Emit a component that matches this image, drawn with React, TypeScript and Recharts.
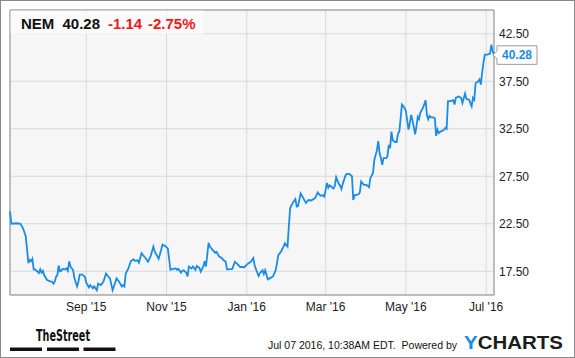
import React from "react";
import {
  LineChart,
  Line,
  XAxis,
  YAxis,
  CartesianGrid,
  ReferenceArea,
  ReferenceLine,
} from "recharts";

// Days since 2015-07-05
const days: number[] = [
  0, 1, 5, 8, 10, 12, 13, 14, 15, 16, 17, 18, 19, 21, 22, 23, 24, 25, 26, 28,
  30, 32, 33, 34, 35, 36, 37, 38, 39, 40, 42, 43, 44, 45, 46, 48, 49, 51, 52, 53,
  55, 57, 58, 60, 61, 63, 64, 66, 67, 69, 71, 73, 75, 76, 78, 79, 81, 83, 85, 86,
  87, 88, 90, 92, 94, 95, 97, 98, 100, 102, 103, 105, 107, 109, 110, 113, 114, 116, 118, 120,
  122, 124, 126, 127, 128, 130, 131, 132, 134, 135, 136, 138, 139, 141, 142, 144, 145, 147, 148, 149,
  151, 152, 154, 156, 157, 159, 161, 162, 164, 165, 166, 169, 171, 173, 175, 177, 178, 180, 183, 185,
  186, 189, 190, 192, 193, 194, 196, 198, 200, 202, 203, 204, 206, 208, 209, 211, 212, 213, 215, 217,
  218, 219, 221, 223, 225, 227, 229, 232, 234, 236, 238, 239, 241, 242, 243, 244, 246, 247, 248, 250,
  251, 252, 253, 255, 256, 258, 260, 261, 262, 265, 266, 267, 269, 271, 273, 274, 276, 277, 279, 280,
  281, 282, 283, 284, 286, 287, 288, 289, 290, 291, 293, 294, 295, 296, 297, 298, 300, 301, 303, 304,
  305, 306, 307, 308, 309, 310, 311, 312, 314, 316, 317, 318, 319, 320, 322, 323, 324, 325, 326, 328,
  330, 331, 332, 333, 335, 337, 338, 339, 341, 343, 344, 346, 347, 349, 351, 352, 353, 354, 356, 357,
  358, 359, 360, 361, 363, 365, 366, 367, 368,
];

const prices: number[] = [
  23.8, 22.5, 22.55, 22.5, 22.0, 21.15, 19.75, 18.35, 18.7, 18.55, 18.8, 17.7, 17.7, 17.45, 17.3, 17.7, 17.35, 17.55, 17.1, 16.6,
  16.45, 16.4, 16.2, 16.4, 16.9, 17.1, 18.1, 17.5, 17.55, 17.75, 17.7, 17.8, 17.55, 18.55, 18.0, 17.6, 16.75, 15.9, 16.4, 17.15,
  17.15, 16.9, 16.3, 15.8, 16.05, 15.7, 15.9, 15.5, 16.2, 16.05, 16.4, 17.25, 16.9, 16.75, 15.5, 15.9, 16.75, 16.4, 15.9, 16.05,
  15.9, 17.25, 17.8, 18.6, 18.75, 18.6, 18.65, 18.4, 19.4, 19.05, 18.9, 18.5, 19.1, 20.1, 19.6, 18.8, 19.3, 20.3, 20.15, 19.9,
  17.65, 17.75, 17.8, 17.65, 17.75, 17.35, 17.55, 17.6, 17.35, 16.95, 18.0, 17.8, 18.0, 17.65, 18.05, 17.85, 17.45, 18.0, 18.55, 18.0,
  20.5, 20.1, 19.75, 19.45, 19.55, 19.05, 18.9, 18.7, 18.5, 17.7, 17.7, 17.75, 18.5, 18.25, 17.95, 17.95, 17.9, 18.2, 18.5, 18.9,
  18.1, 17.0, 17.3, 17.6, 17.2, 17.6, 16.65, 16.8, 16.95, 17.6, 18.35, 19.2, 19.55, 20.1, 20.45, 20.1, 22.2, 24.15, 24.7, 25.1,
  24.3, 24.35, 25.7, 25.2, 24.7, 25.0, 24.95, 25.2, 25.8, 25.45, 25.5, 25.35, 26.8, 26.3, 26.55, 26.45, 26.2, 26.5, 27.4, 26.7,
  26.5, 26.15, 26.7, 27.55, 27.75, 27.75, 27.5, 25.0, 25.5, 25.6, 25.8, 26.95, 26.6, 26.6, 26.35, 27.3, 27.85, 29.2, 30.25, 31.2,
  29.95, 29.4, 28.7, 29.4, 29.4, 29.6, 30.8, 30.45, 32.2, 31.3, 31.1, 31.1, 32.0, 32.2, 33.6, 35.05, 34.7, 34.35, 32.4, 33.1,
  33.95, 33.4, 32.7, 31.9, 32.7, 33.75, 33.5, 34.2, 34.7, 35.5, 33.95, 33.5, 33.85, 33.7, 33.7, 33.6, 31.75, 32.4, 32.05, 32.25,
  32.4, 32.6, 32.5, 35.4, 35.4, 35.5, 35.05, 35.75, 35.9, 35.75, 35.2, 36.2, 35.65, 35.55, 34.85, 35.75, 35.55, 37.3, 37.5, 37.7,
  37.15, 38.4, 39.45, 40.3, 40.3, 40.4, 41.35, 40.65, 40.28,
];

const xTicks: number[] = [58, 119, 180, 240, 301, 362];
const xTickLabels: string[] = ["Sep '15", "Nov '15", "Jan '16", "Mar '16", "May '16", "Jul '16"];
const yTicks: number[] = [17.5, 22.5, 27.5, 32.5, 37.5, 42.5];

const ticker = "NEM";
const lastPrice = 40.28;
const change = "-1.14";
const changePct = "-2.75%";

const data = days.map((d, i) => ({ day: d, price: prices[i] }));

const FONT = "'Liberation Sans', Arial, Helvetica, sans-serif";
const BLUE = "#1a8be8";

const LastTag = (props: any) => {
  const vb = props.viewBox || {};
  const x0 = (vb.x || 0) + (vb.width || 0) - 1;
  const y = vb.y || 0;
  const pts = [
    [x0, y],
    [x0 + 4, y - 4],
    [x0 + 4, y - 9],
    [x0 + 44, y - 9],
    [x0 + 44, y + 9.5],
    [x0 + 4, y + 9.5],
    [x0 + 4, y + 4],
  ]
    .map((p) => p.join(","))
    .join(" ");
  return (
    <g>
      <polygon points={pts} fill="#ffffff" stroke="#9a9a9a" strokeWidth={1} />
      <text
        x={x0 + 24}
        y={y + 4.5}
        textAnchor="middle"
        fontFamily={FONT}
        fontSize={12}
        fontWeight="bold"
        fill={BLUE}
      >
        {lastPrice.toFixed(2)}
      </text>
    </g>
  );
};

export default function App() {
  return (
    <div
      style={{
        position: "absolute",
        left: 0,
        top: 0,
        width: 575,
        height: 358,
        background: "#ffffff",
        fontFamily: FONT,
      }}
    >
      <LineChart
        width={575}
        height={358}
        data={data}
        margin={{ top: 10, right: 0, left: 10, bottom: 0 }}
      >
        <CartesianGrid stroke="#d9d9d9" fill="#f6f6f6" />
        <XAxis
          dataKey="day"
          type="number"
          domain={[0, 368]}
          ticks={xTicks}
          interval={0}
          height={63}
          axisLine={false}
          tickLine={false}
          tickSize={5}
          tickMargin={2}
          tickFormatter={(v: number) => xTickLabels[xTicks.indexOf(v)] || ""}
          tick={{ fontSize: 12, fill: "#222", fontFamily: FONT }}
        />
        <YAxis
          orientation="right"
          type="number"
          domain={[15, 45]}
          ticks={yTicks}
          interval={0}
          width={81}
          axisLine={false}
          tickLine={false}
          tickSize={3}
          tickMargin={2}
          tickFormatter={(v: number) => v.toFixed(2)}
          tick={{ fontSize: 12, fill: "#222", fontFamily: FONT, textAnchor: "start" }}
        />
        <ReferenceArea
          x1={0}
          x2={368}
          y1={15}
          y2={45}
          fill="none"
          stroke="#8f8f8f"
          strokeWidth={1}
          ifOverflow="visible"
        />
        <Line
          type="linear"
          dataKey="price"
          stroke={BLUE}
          strokeWidth={1.8}
          dot={false}
          isAnimationActive={false}
        />
        <ReferenceLine
          y={lastPrice}
          stroke="none"
          ifOverflow="visible"
          label={<LastTag />}
        />
      </LineChart>
      <svg
        width={575}
        height={358}
        style={{ position: "absolute", left: 0, top: 0, pointerEvents: "none" }}
      >
        <rect x={0.5} y={0.5} width={574} height={357} fill="none" stroke="#8a8a8a" strokeWidth={1} />
        <rect x={10.5} y={10.5} width={193} height={24} fill="#ffffff" fillOpacity={0.6} />
        <text y={28.5} fontFamily={FONT} fontSize={15} fontWeight="bold">
          <tspan x={21} fill="#111">{ticker}</tspan>
          <tspan x={62.5} fill="#111">{lastPrice.toFixed(2)}</tspan>
          <tspan x={108} fill="#f21818">{change}</tspan>
          <tspan x={148} fill="#f21818">{changePct}</tspan>
        </text>
        <text
          x={36}
          y={341}
          fontFamily="'DejaVu Sans Condensed', 'Liberation Sans Narrow', Arial, sans-serif"
          fontSize={15}
          fontWeight="bold"
          fill="#111"
          textLength={54}
          lengthAdjust="spacingAndGlyphs"
        >
          TheStreet
        </text>
        <rect x={10} y={347.5} width={32} height={3.5} fill="#111" />
        <rect x={47} y={347.5} width={32} height={3.5} fill="#111" />
        <rect x={83.5} y={347.5} width={32} height={3.5} fill="#111" />
        <text
          x={268}
          y={349}
          fontFamily={FONT}
          fontSize={11}
          fill="#111"
          textLength={189}
          lengthAdjust="spacingAndGlyphs"
          xmlSpace="preserve"
        >
          Jul 07 2016, 10:38AM EDT.  Powered by
        </text>
        <text
          x={464}
          y={348.5}
          fontFamily={FONT}
          fontSize={18.5}
          fontWeight="bold"
          textLength={99}
          lengthAdjust="spacingAndGlyphs"
        >
          <tspan fill={BLUE}>Y</tspan>
          <tspan fill="#1c1c1c">CHARTS</tspan>
        </text>
      </svg>
    </div>
  );
}
